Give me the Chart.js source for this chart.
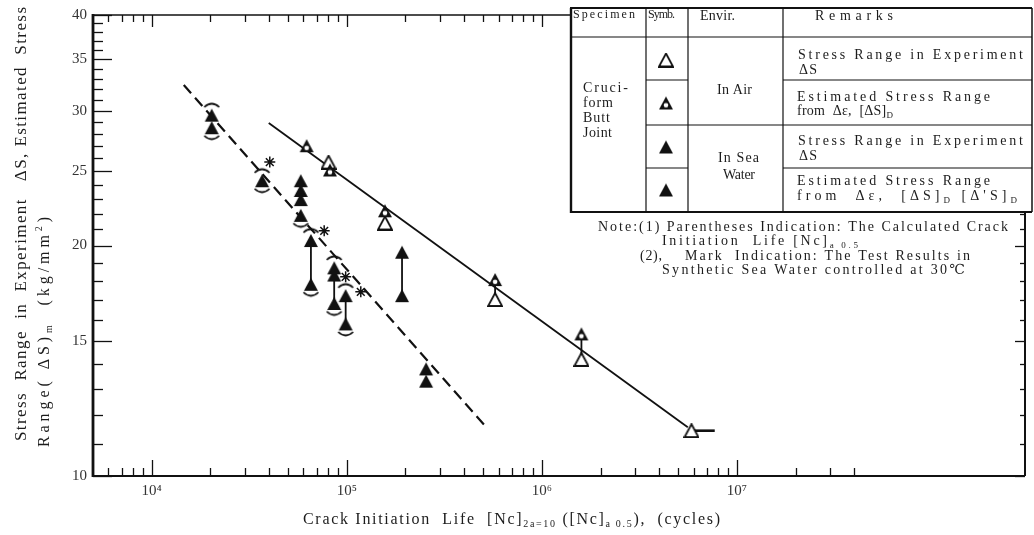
<!DOCTYPE html>
<html><head><meta charset="utf-8">
<script src="https://cdn.jsdelivr.net/npm/chart.js@4/dist/chart.umd.min.js"></script>
<style>html,body{margin:0;padding:0;background:#fff}canvas{display:block}</style>
</head><body>
<canvas id="c" width="1034" height="535"></canvas>
<script>
// ---------------- data ----------------
const xTickValues = [6e3,7e3,8e3,9e3,1e4,2e4,3e4,4e4,5e4,6e4,7e4,8e4,9e4,1e5,2e5,3e5,4e5,5e5,6e5,7e5,8e5,9e5,1e6,2e6,3e6,4e6,5e6,6e6,7e6,8e6,9e6,1e7,2e7,3e7,4e7];
const xLabelValues = [1e4,1e5,1e6,1e7];
const xTickLabels = ['10\u2074','10\u2075','10\u2076','10\u2077'];
const yTickValues = [10,11,12,13,14,15,16,17,18,19,20,21,22,23,24,25,26,27,28,29,30,31,32,33,34,35,36,37,38,39,40];
const yLabelValues = [10,15,20,25,30,35,40];

// In air: stress range in experiment (open triangles)
const airExpN = [8.06e4, 1.57e5, 5.76e5, 1.596e6, 5.85e6];
const airExpS = [25.7, 21.4, 17.0, 14.2, 11.46];
// In air: estimated stress range (half-filled triangles)
const airEstN = [6.23e4, 8.2e4, 1.57e5, 5.76e5, 1.596e6];
const airEstS = [27.0, 25.1, 22.2, 18.05, 15.33];
// In sea water: stress range in experiment
const seaExpN = [2.03e4, 3.68e4, 5.81e4, 5.81e4, 5.81e4, 6.55e4, 8.62e4, 8.62e4, 9.87e4, 1.92e5, 2.55e5];
const seaExpS = [28.5, 24.3, 23.6, 22.96, 21.9, 17.8, 18.3, 16.8, 15.8, 17.2, 13.3];
// In sea water: estimated stress range
const seaEstN = [2.03e4, 5.81e4, 6.55e4, 8.62e4, 9.87e4, 1.92e5, 2.55e5];
const seaEstS = [29.6, 24.3, 20.3, 18.7, 17.2, 19.6, 13.8];
// parentheses (calculated crack initiation life)
const parenTopN = [2.03e4, 3.68e4, 6.55e4, 8.62e4, 9.87e4];
const parenTopS = [29.6, 24.3, 20.3, 18.7, 17.2];
const parenBotN = [2.03e4, 3.68e4, 5.81e4, 6.55e4, 8.62e4, 9.87e4];
const parenBotS = [28.5, 24.3, 21.9, 17.8, 16.8, 15.8];
// asterisk marks (synthetic sea water at 30 C)
const starN = [4.03e4, 7.66e4, 9.87e4, 1.18e5];
const starS = [25.7, 20.9, 18.2, 17.4];
// vertical connectors: pairs [N, S top, S bottom]
const pairN = [6.55e4, 8.62e4, 9.87e4, 1.92e5, 5.76e5, 1.596e6];
const pairTop = [20.3, 18.3, 17.2, 19.6, 18.05, 15.33];
const pairBot = [17.8, 16.8, 15.8, 17.2, 17.0, 14.2];
// fitted lines
const airLineN = [3.98e4, 5.60e6];
const airLineS = [28.9, 11.58];
const seaLineN = [1.46e4, 5.29e5];
const seaLineS = [32.4, 11.52];
// run-out arrow
const runoutN = [5.85e6, 7.7e6];
const runoutS = [11.46, 11.46];

// ---------------- helpers ----------------
const SERIF = '"Liberation Serif", "DejaVu Serif", serif';
const INK = '#111';
const TXT = '#1c1c1c';
const pts = (xs, ys) => xs.map((x, i) => ({x, y: ys[i]}));

function mk(w, h, fn) { const c = document.createElement('canvas'); c.width = w; c.height = h; fn(c.getContext('2d')); return c; }
function triPath(g) { g.beginPath(); g.moveTo(8, 1); g.lineTo(15, 14); g.lineTo(1, 14); g.closePath(); }
const triOpen = mk(16, 15, g => { triPath(g); g.fillStyle = '#fff'; g.fill(); g.lineWidth = 1.8; g.strokeStyle = INK; g.stroke(); });
const triFull = mk(16, 15, g => { triPath(g); g.fillStyle = INK; g.fill(); });
const triHalf = mk(16, 15, g => { triPath(g); g.fillStyle = INK; g.fill(); g.beginPath(); g.arc(8, 9.8, 2.3, 0, Math.PI * 2); g.fillStyle = '#fff'; g.fill(); });
const arcTop = mk(18, 32, g => { g.beginPath(); g.moveTo(1.5, 8); g.quadraticCurveTo(9, 1, 16.5, 8); g.lineWidth = 1.7; g.strokeStyle = INK; g.stroke(); });
const arcBot = mk(18, 32, g => { g.beginPath(); g.moveTo(1.5, 24); g.quadraticCurveTo(9, 31, 16.5, 24); g.lineWidth = 1.7; g.strokeStyle = INK; g.stroke(); });

function fnt(s) { return s + 'px ' + SERIF; }
function richText(ctx, segs, x, y, size, target) {
  const hasLS = 'letterSpacing' in ctx;
  const parts = segs.map(([t, k]) => {
    const s = k === 'n' ? size : Math.round(size * 0.62);
    ctx.font = fnt(s);
    if (hasLS) ctx.letterSpacing = '0px';
    return {t, k, s, w: ctx.measureText(t).width, n: [...t].length};
  });
  const W = parts.reduce((a, p) => a + p.w, 0);
  const N = parts.reduce((a, p) => a + p.n, 0);
  let sp = (target && N > 1) ? (target - W) / (N - 1) : 0;
  ctx.save();
  ctx.textBaseline = 'middle'; ctx.textAlign = 'left'; ctx.fillStyle = TXT;
  if (!hasLS && target) { ctx.translate(x, y); ctx.scale(target / W, 1); ctx.translate(-x, -y); sp = 0; }
  let cx = x;
  for (const p of parts) {
    ctx.font = fnt(p.s);
    if (hasLS) ctx.letterSpacing = sp + 'px';
    const dy = p.k === 'sub' ? size * 0.3 : p.k === 'sup' ? -size * 0.36 : 0;
    ctx.fillText(p.t, cx, y + dy);
    cx += p.w + sp * p.n;
  }
  if (hasLS) ctx.letterSpacing = '0px';
  ctx.restore();
}
function line(ctx, x1, y1, x2, y2, w) { ctx.beginPath(); ctx.moveTo(x1, y1); ctx.lineTo(x2, y2); ctx.lineWidth = w; ctx.strokeStyle = INK; ctx.stroke(); }

// ---------------- frame / ticks / annotations plugin ----------------
const framePlugin = {
  id: 'frame',
  beforeDatasetsDraw(chart) {
    const ctx = chart.ctx, a = chart.chartArea, xs = chart.scales.x, ys = chart.scales.y;
    ctx.save();
    ctx.lineCap = 'butt';
    xTickValues.forEach(v => {
      const px = Math.round(xs.getPixelForValue(v)) + 0.5;
      const big = xLabelValues.includes(v);
      line(ctx, px, a.bottom, px, a.bottom - (big ? 16 : 8), 1.3);
      if (px < 570) line(ctx, px, a.top, px, a.top + (big ? 12 : 7), 1.3);
    });
    yTickValues.forEach(v => {
      const py = Math.round(ys.getPixelForValue(v)) + 0.5;
      const big = v % 5 === 0;
      line(ctx, a.left, py, a.left + (big ? 19 : 10), py, 1.3);
      line(ctx, a.right, py, a.right - (big ? 10 : 5), py, 1.3);
    });
    line(ctx, a.left, a.top, a.right, a.top, 1.6);
    line(ctx, a.right, a.top, a.right, a.bottom, 2);
    line(ctx, a.left - 1, a.bottom, a.right, a.bottom, 2.2);
    line(ctx, a.left, a.top - 1, a.left, a.bottom + 1, 2.8);
    ctx.restore();
  },
  afterDraw(chart) {
    const ctx = chart.ctx;
    ctx.save();
    // ---- axis titles ----
    ctx.save(); ctx.translate(22, 441); ctx.rotate(-Math.PI / 2);
    richText(ctx, [['Stress  Range  in  Experiment   \u0394S, Estimated  Stress', 'n']], 0, 0, 17, 434);
    ctx.restore();
    ctx.save(); ctx.translate(45, 447); ctx.rotate(-Math.PI / 2);
    richText(ctx, [['Range( \u0394S)', 'n'], ['m', 'sub'], ['  (kg/mm', 'n'], ['2', 'sup'], [')', 'n']], 0, 0, 16, 230);
    ctx.restore();
    richText(ctx, [['Crack Initiation  Life  [Nc]', 'n'], ['2a=10', 'sub'], [' ([Nc]', 'n'], ['a 0.5', 'sub'], ['),  (cycles)', 'n']], 303, 520, 16, 417);

    // ---- legend table ----
    const L = 570, R = 1032, T = 8, B = 212;
    ctx.fillStyle = '#fff'; ctx.fillRect(L, T, R - L, B - T);
    line(ctx, L, T, R, T, 1.8);
    line(ctx, L, B, R, B, 2.2);
    line(ctx, L + 1, T, L + 1, B + 1, 2.4);
    line(ctx, R, T, R, B, 1.5);
    line(ctx, 646, T, 646, B, 1.2);
    line(ctx, 688, T, 688, B, 1.2);
    line(ctx, 783, T, 783, B, 1.2);
    line(ctx, L, 37, R, 37, 1.2);
    line(ctx, 646, 80, 688, 80, 1.1); line(ctx, 783, 80, R, 80, 1.1);
    line(ctx, 646, 125, R, 125, 1.1);
    line(ctx, 646, 168, 688, 168, 1.1); line(ctx, 783, 168, R, 168, 1.1);
    [[triOpen, 60], [triHalf, 103], [triFull, 147], [triFull, 190]].forEach(([im, cy]) => ctx.drawImage(im, 666 - 8, cy - 7.5));

    richText(ctx, [['Specimen', 'n']], 573, 15, 12, 62);
    richText(ctx, [['Symb.', 'n']], 648, 15, 12, 27);
    richText(ctx, [['Envir.', 'n']], 700, 16, 14, 35);
    richText(ctx, [['Remarks', 'n']], 815, 16, 14, 78);
    richText(ctx, [['Cruci-', 'n']], 583, 88, 14, 45);
    richText(ctx, [['form', 'n']], 583, 103, 14, 30);
    richText(ctx, [['Butt', 'n']], 583, 118, 14, 27);
    richText(ctx, [['Joint', 'n']], 583, 133, 14, 29);
    richText(ctx, [['In Air', 'n']], 717, 90, 14, 35);
    richText(ctx, [['In Sea', 'n']], 718, 158, 14, 41);
    richText(ctx, [['Water', 'n']], 723, 175, 14, 32);
    richText(ctx, [['Stress Range in Experiment', 'n']], 798, 55, 14, 225);
    richText(ctx, [['\u0394S', 'n']], 799, 70, 14, 18);
    richText(ctx, [['Estimated Stress Range', 'n']], 797, 97, 14, 193);
    richText(ctx, [['from  \u0394\u03b5,  [\u0394S]', 'n'], ['D', 'sub']], 797, 111, 14, 96);
    richText(ctx, [['Stress Range in Experiment', 'n']], 798, 141, 14, 225);
    richText(ctx, [['\u0394S', 'n']], 799, 156, 14, 18);
    richText(ctx, [['Estimated Stress Range', 'n']], 797, 181, 14, 193);
    richText(ctx, [['from  \u0394\u03b5,  [\u0394S]', 'n'], ['D', 'sub'], [' [\u0394\'S]', 'n'], ['D', 'sub']], 797, 196, 14, 220);

    // ---- notes ----
    richText(ctx, [['Note:(1) Parentheses Indication: The Calculated Crack', 'n']], 598, 227, 14, 410);
    richText(ctx, [['Initiation  Life [Nc]', 'n'], ['a 0.5', 'sub']], 662, 241, 14, 196);
    richText(ctx, [['(2),', 'n']], 640, 256, 14, 22);
    richText(ctx, [['Mark  Indication: The Test Results in', 'n']], 685, 256, 14, 285);
    richText(ctx, [['Synthetic Sea Water controlled at 30\u2103', 'n']], 662, 270, 14, 303);
    ctx.restore();
  }
};

const connectorData = [];
pairN.forEach((n, i) => { connectorData.push({x: n, y: pairTop[i]}, {x: n, y: pairBot[i]}, {x: n, y: null}); });

const imgSet = (label, data, img) => ({label, data, pointStyle: img, pointRadius: 8, pointHoverRadius: 8, showLine: false});

new Chart(document.getElementById('c'), {
  type: 'scatter',
  data: {
    datasets: [
      imgSet('Air estimated', pts(airEstN, airEstS), triHalf),
      imgSet('Air experiment', pts(airExpN, airExpS), triOpen),
      imgSet('Sea estimated', pts(seaEstN, seaEstS), triFull),
      imgSet('Sea experiment', pts(seaExpN, seaExpS), triFull),
      imgSet('Paren top', pts(parenTopN, parenTopS), arcTop),
      imgSet('Paren bottom', pts(parenBotN, parenBotS), arcBot),
      {label: 'Marks', data: pts(starN, starS), pointStyle: 'star', pointRadius: 5.5, borderColor: INK, borderWidth: 1.5, backgroundColor: INK, showLine: false},
      {label: 'Connectors', data: connectorData, showLine: true, spanGaps: false, pointRadius: 0, borderColor: INK, borderWidth: 1.8},
      {label: 'Run-out', data: pts(runoutN, runoutS), showLine: true, pointRadius: 0, borderColor: INK, borderWidth: 2.6},
      {label: 'Air fit', data: pts(airLineN, airLineS), showLine: true, pointRadius: 0, borderColor: INK, borderWidth: 1.8},
      {label: 'Sea fit', data: pts(seaLineN, seaLineS), showLine: true, pointRadius: 0, borderColor: INK, borderWidth: 2.2, borderDash: [11, 6]}
    ]
  },
  options: {
    responsive: false, animation: false, devicePixelRatio: 1,
    layout: {padding: {top: 9, right: 1, left: 0, bottom: 0}},
    plugins: {legend: {display: false}, tooltip: {enabled: false}},
    events: [],
    scales: {
      x: {
        type: 'logarithmic', min: 5000, max: 3e8,
        grid: {display: false, drawTicks: false}, border: {display: false},
        afterBuildTicks: s => { s.ticks = xTickValues.map(v => ({value: v})); },
        afterFit: s => { s.height = 59; },
        ticks: {autoSkip: false, maxRotation: 0, minRotation: 0, padding: 6, color: '#333',
          font: {family: SERIF, size: 15},
          callback: v => { const i = xLabelValues.indexOf(v); return i >= 0 ? xTickLabels[i] : ''; }}
      },
      y: {
        type: 'logarithmic', min: 10, max: 40,
        grid: {display: false, drawTicks: false}, border: {display: false},
        afterBuildTicks: s => { s.ticks = yTickValues.map(v => ({value: v})); },
        afterFit: s => { s.width = 93; },
        ticks: {autoSkip: false, padding: 6, color: '#333',
          font: {family: SERIF, size: 15},
          callback: v => yLabelValues.includes(v) ? String(v) : ''}
      }
    }
  },
  plugins: [framePlugin]
});
</script>
</body></html>
